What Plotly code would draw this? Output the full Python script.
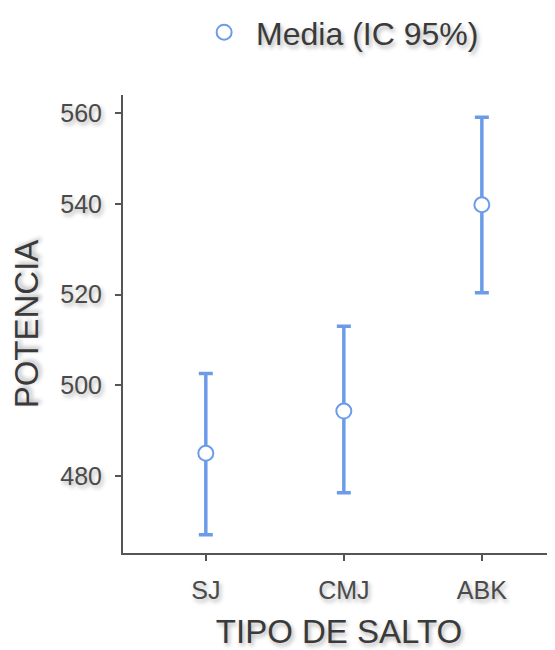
import plotly.graph_objects as go

categories = ["SJ", "CMJ", "ABK"]
means = [485.0, 494.3, 539.8]
upper = [502.6, 513.0, 559.1]
lower = [467.0, 476.3, 520.4]

err_plus = [u - m for u, m in zip(upper, means)]
err_minus = [m - l for m, l in zip(means, lower)]

blue = "#6c9ce9"
shadow = "2px 3px 4px rgba(0,0,0,0.3)"

fig = go.Figure()
fig.add_trace(go.Scatter(
    x=[0, 1, 2], y=means, mode="markers", name="Media (IC 95%)",
    marker=dict(size=15, color="white", line=dict(color=blue, width=2)),
    error_y=dict(type="data", symmetric=False, array=err_plus, arrayminus=err_minus,
                 color=blue, thickness=3.5, width=7),
))

fig.update_layout(
    width=547, height=642,
    margin=dict(l=115, r=0, t=87, b=97),
    paper_bgcolor="white", plot_bgcolor="white",
    font=dict(family="Liberation Sans, Arial, sans-serif", color="#444"),
    showlegend=True,
    legend=dict(orientation="h", x=0.16, xanchor="left",
                yref="container", y=0.962, yanchor="middle",
                itemwidth=54,
                font=dict(size=32, color="#3a3a3a", shadow=shadow)),
    xaxis=dict(
        range=[-0.6, 2.53], tickmode="array", tickvals=[0, 1, 2], ticktext=categories,
        showline=True, linecolor="#555", linewidth=2, showgrid=False, zeroline=False,
        ticks="outside", ticklen=6, tickwidth=2, tickcolor="#555", ticklabelstandoff=8,
        tickfont=dict(size=25, color="#4a4a4a", shadow=shadow),
        title=dict(text="TIPO DE SALTO", font=dict(size=33, color="#3a3a3a", shadow=shadow), standoff=18),
    ),
    yaxis=dict(
        range=[463, 564], tickvals=[480, 500, 520, 540, 560],
        showline=True, linecolor="#555", linewidth=2, showgrid=False, zeroline=False,
        ticks="outside", ticklen=6, tickwidth=2, tickcolor="#555", ticklabelstandoff=8,
        tickfont=dict(size=25, color="#4a4a4a", shadow=shadow),
        title=dict(text="POTENCIA", font=dict(size=33, color="#3a3a3a", shadow=shadow), standoff=16),
    ),
)

fig.write_html("out.html")
